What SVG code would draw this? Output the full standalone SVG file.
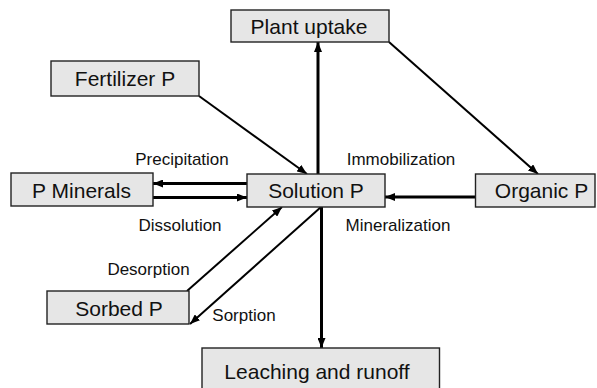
<svg xmlns="http://www.w3.org/2000/svg" width="597" height="388" viewBox="0 0 597 388">
<style>
.box{fill:#e6e6e6;stroke:#222;stroke-width:1.4}
.bt{font-family:"Liberation Sans",Arial,sans-serif;font-size:21px;fill:#111;text-anchor:middle}
.lb{font-family:"Liberation Sans",Arial,sans-serif;font-size:17px;fill:#111;text-anchor:middle}
.thick{stroke:#000;stroke-width:3;fill:none}
.thin{stroke:#000;stroke-width:2;fill:none}
</style>
<defs>
<marker id="ah" markerUnits="userSpaceOnUse" viewBox="0 0 10 8" refX="10" refY="4" markerWidth="10" markerHeight="8" orient="auto">
<path d="M0,0 L10,4 L0,8 Z" fill="#000"/>
</marker>
</defs>
<g id="connectors">
<line class="thick" x1="318" y1="174" x2="318" y2="42" marker-end="url(#ah)"/>
<line class="thick" x1="321.5" y1="207" x2="321.5" y2="348" marker-end="url(#ah)"/>
<line class="thick" x1="247" y1="183.5" x2="153" y2="183.5" marker-end="url(#ah)"/>
<line class="thick" x1="153" y1="197.5" x2="247" y2="197.5" marker-end="url(#ah)"/>
<line class="thick" x1="475" y1="197" x2="385" y2="197" marker-end="url(#ah)"/>
<line class="thin" x1="389" y1="42" x2="538" y2="174" marker-end="url(#ah)"/>
<line class="thin" x1="199" y1="96" x2="307" y2="174" marker-end="url(#ah)"/>
<line class="thin" x1="187" y1="291" x2="282" y2="207" marker-end="url(#ah)"/>
<line class="thin" x1="321" y1="207" x2="190" y2="324" marker-end="url(#ah)"/>
<text class="lb" x="182" y="165">Precipitation</text>
<text class="lb" x="180" y="230.5">Dissolution</text>
<text class="lb" x="401" y="165">Immobilization</text>
<text class="lb" x="398" y="230.5">Mineralization</text>
<text class="lb" x="148.5" y="274.5">Desorption</text>
<text class="lb" x="244" y="321">Sorption</text>
</g>
<g id="plant-uptake">
<rect class="box" x="231" y="10" width="158" height="32"/>
<text class="bt" x="309" y="33.5">Plant uptake</text>
</g>
<g id="fertilizer-p">
<rect class="box" x="51" y="61" width="148" height="35"/>
<text class="bt" x="125" y="86">Fertilizer P</text>
</g>
<g id="p-minerals">
<rect class="box" x="11" y="173" width="142" height="33"/>
<text class="bt" x="81.5" y="197.5">P Minerals</text>
</g>
<g id="solution-p">
<rect class="box" x="247" y="174" width="138" height="33"/>
<text class="bt" x="316" y="198">Solution P</text>
</g>
<g id="organic-p">
<rect class="box" x="475.5" y="174" width="119.5" height="33"/>
<text class="bt" x="541.5" y="198">Organic P</text>
</g>
<g id="sorbed-p">
<rect class="box" x="47" y="291" width="142" height="33"/>
<text class="bt" x="119" y="316">Sorbed P</text>
</g>
<g id="leaching-runoff">
<rect class="box" x="202" y="348" width="237.5" height="50"/>
<text class="bt" x="317" y="379">Leaching and runoff</text>
</g>
</svg>
